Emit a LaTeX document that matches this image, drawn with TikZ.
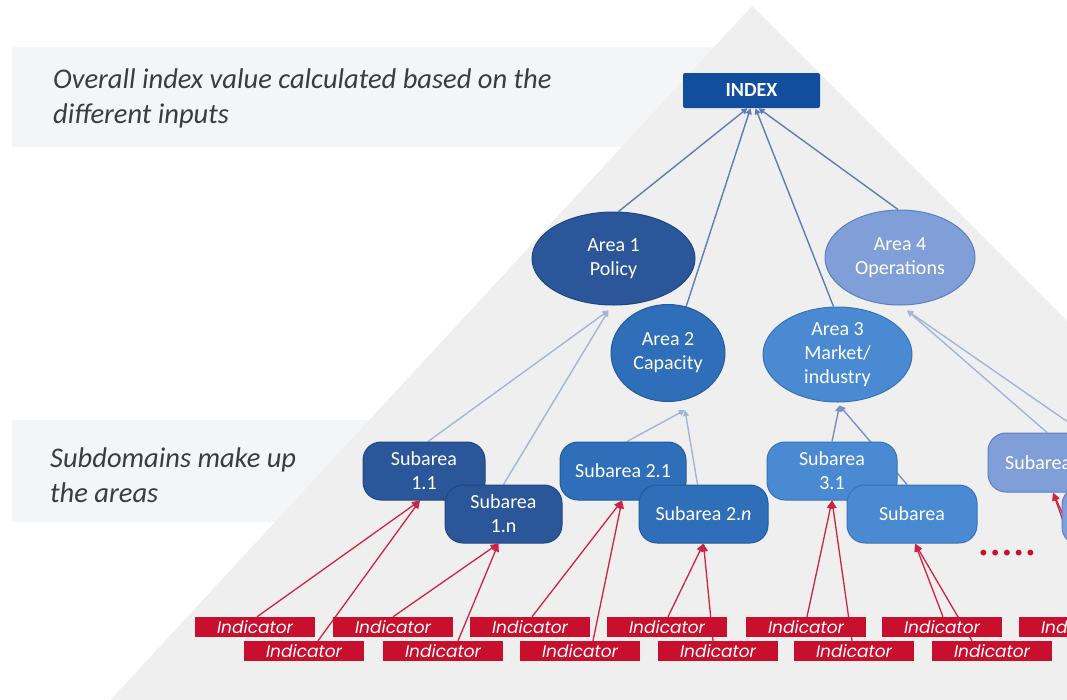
\documentclass[tikz,border=0pt]{standalone}
\usepackage{fontspec}
\setmainfont{Carlito}
\newfontfamily\indfont{Poppins}
\newfontfamily\dotfont{DejaVu Sans}
\usetikzlibrary{shapes.geometric,arrows.meta}
\pgfdeclarelayer{back}
\pgfdeclarelayer{links}
\pgfsetlayers{back,links,main}
\definecolor{bandgray}{HTML}{F4F5F7}
\definecolor{pyrgray}{HTML}{EFEFEF}
\definecolor{descgray}{HTML}{3C3C3C}
\definecolor{idxblue}{HTML}{114E9E}
\definecolor{cA}{HTML}{2B5699}
\definecolor{cAd}{HTML}{1F4680}
\definecolor{cB}{HTML}{2F6EB8}
\definecolor{cBd}{HTML}{245B9C}
\definecolor{cC}{HTML}{4A8AD2}
\definecolor{cCd}{HTML}{3872B5}
\definecolor{cD}{HTML}{809FD9}
\definecolor{cDd}{HTML}{5C7FC2}
\definecolor{indred}{HTML}{C8102E}
\definecolor{redline}{HTML}{CC2442}
\definecolor{topline}{HTML}{5E7DB0}
\definecolor{midline}{HTML}{A3B5D8}
\definecolor{midlinedark}{HTML}{7A90BE}
\begin{document}
\begin{tikzpicture}[x=1pt,y=-1pt,
  desc/.style={font=\fontsize{28.5}{35}\selectfont\itshape, text=descgray, align=left, inner sep=0pt},
  areanode/.style={ellipse, line width=1pt, text=white, font=\fontsize{20}{24}\selectfont, align=center, inner sep=0pt},
  subnode/.style={rounded corners=18pt, line width=1pt, text=white, font=\fontsize{20}{24}\selectfont, align=center, minimum height=58pt, inner sep=0pt},
  indnode/.style={fill=indred, text=white, font=\indfont\itshape\fontsize{17}{20}\selectfont, minimum width=120pt, minimum height=20pt, inner sep=0pt},
  idxline/.style={draw=topline, line width=1.4pt, -{Triangle[length=6pt,width=6pt]}},
  subline/.style={draw=midline, line width=1.4pt, -{Triangle[length=6pt,width=6pt]}},
  sublinedark/.style={draw=midlinedark, line width=1.4pt, -{Triangle[length=6pt,width=6pt]}},
  redlink/.style={draw=redline, line width=1.3pt, -{Triangle[length=8pt,width=7pt]}}
]
\useasboundingbox (0,0) rectangle (1067,699);
\clip (0,0) rectangle (1067,699);

\begin{pgfonlayer}{back}
\clip (0,0) rectangle (1067,699);
\fill[white] (0,0) rectangle (1067,699);
\fill[bandgray] (12,47) rectangle (780,147);
\fill[bandgray] (12,420) rectangle (780,522);
\fill[pyrgray] (752,6) -- (92,720) -- (1466,720) -- cycle;
\end{pgfonlayer}

% descriptions
\node[desc, anchor=west] (d1) at (53,98) {Overall index value calculated based on the\\different inputs};
\node[desc, anchor=west] (d2) at (50,475) {Subdomains make up\\the areas};

% index
\node[fill=idxblue, rounded corners=2pt, minimum width=137pt, minimum height=35pt, inner sep=0pt,
      text=white, font=\bfseries\fontsize{20}{24}\selectfont] (idx) at (751.5,90.5) {INDEX};

% areas
\node[areanode, fill=cA, draw=cAd, minimum width=163pt, minimum height=93pt] (a1) at (613.5,258.5) {Area 1\\Policy};
\node[areanode, fill=cD, draw=cDd, minimum width=150pt, minimum height=95pt] (a4) at (900,257.5) {Area 4\\Operations};
\node[areanode, fill=cB, draw=cBd, minimum width=114pt, minimum height=97pt] (a2) at (668,353) {Area 2\\Capacity};
\node[areanode, fill=cC, draw=cCd, minimum width=149pt, minimum height=95pt] (a3) at (837.5,354.5) {Area 3\\Market/\\industry};

% subareas
\node[subnode, fill=cA, draw=cAd, minimum width=122pt] (s11) at (424,471) {Subarea\\1.1};
\node[subnode, fill=cA, draw=cAd, minimum width=117pt] (s1n) at (503.5,514) {Subarea\\1.n};
\node[subnode, fill=cB, draw=cBd, minimum width=126pt] (s21) at (623,471) {Subarea 2.1};
\node[subnode, fill=cB, draw=cBd, minimum width=129pt] (s2n) at (703.5,514) {Subarea 2.\textit{n}};
\node[subnode, fill=cC, draw=cCd, minimum width=130pt] (s31) at (832,471) {Subarea\\3.1};
\node[subnode, fill=cC, draw=cCd, minimum width=130pt] (s3n) at (912,514) {Subarea};
\node[subnode, fill=cD, draw=cDd, minimum width=130pt, minimum height=59pt] (s41) at (1053,462.5) {Subarea\phantom{ 4.1}};
\node[subnode, fill=cD, draw=cDd, minimum width=130pt] (s4n) at (1127,516) {};

% dots
\node[text=indred, font=\dotfont\fontsize{20}{24}\selectfont, inner sep=0pt] (dots) at (1007,555) {•••••};

% indicators row 1
\node[indnode] (r11) at (255,627) {Indicator};
\node[indnode] (r12) at (393,627) {Indicator};
\node[indnode] (r13) at (530,627) {Indicator};
\node[indnode] (r14) at (667,627) {Indicator};
\node[indnode] (r15) at (806,627) {Indicator};
\node[indnode] (r16) at (942,627) {Indicator};
\node[indnode] (r17) at (1079,627) {Indicator};
% indicators row 2
\node[indnode] (r21) at (304,651) {Indicator};
\node[indnode] (r22) at (443,651) {Indicator};
\node[indnode] (r23) at (580,651) {Indicator};
\node[indnode] (r24) at (718,651) {Indicator};
\node[indnode] (r25) at (854,651) {Indicator};
\node[indnode] (r26) at (992,651) {Indicator};
\node[indnode] (r27) at (1130,651) {Indicator};

\begin{pgfonlayer}{links}
\clip (0,0) rectangle (1067,699);
% areas -> index
\draw[idxline] ([shift={(5,0)}]a1.north) -- ([xshift=-4pt]idx.south);
\draw[idxline] ([shift={(18,3)}]a2.north) -- ([xshift=-1pt]idx.south);
\draw[idxline] ([shift={(-4,0)}]a3.north) -- ([xshift=4pt]idx.south);
\draw[idxline] ([shift={(-2,0)}]a4.north) -- ([xshift=7pt]idx.south);
% subareas -> areas
\draw[subline] ([xshift=4pt]s11.north) -- ([shift={(-5,5)}]a1.south);
\draw[subline] (s1n.north) -- ([shift={(-5,5)}]a1.south);
\draw[subline] ([xshift=4pt]s21.north) -- ([shift={(17,8)}]a2.south);
\draw[subline] ([xshift=-6pt]s2n.north) -- ([shift={(17,8)}]a2.south);
\draw[sublinedark] (s31.north) -- ([shift={(2,3)}]a3.south);
\draw[sublinedark] ([xshift=-5pt]s3n.north) -- ([shift={(2,3)}]a3.south);
\draw[subline] ([xshift=-6pt]s41.north) -- ([shift={(7,5)}]a4.south);
\draw[subline] ([xshift=34pt]s4n.north) -- ([shift={(7,5)}]a4.south);
% indicators -> subareas
\draw[redlink] ([xshift=2pt]r11.north) -- ([xshift=-4pt]s11.south);
\draw[redlink] ([xshift=14pt]r21.north) -- ([xshift=-4pt]s11.south);
\draw[redlink] (r12.north) -- ([xshift=-5pt]s1n.south);
\draw[redlink] ([xshift=15pt]r22.north) -- ([xshift=-5pt]s1n.south);
\draw[redlink] ([xshift=2pt]r13.north) -- ([xshift=-1pt]s21.south);
\draw[redlink] ([xshift=13pt]r23.north) -- ([xshift=-1pt]s21.south);
\draw[redlink] ([xshift=1pt]r14.north) -- (s2n.south);
\draw[redlink] ([xshift=-5pt]r24.north) -- (s2n.south);
\draw[redlink] ([xshift=1pt]r15.north) -- (s31.south);
\draw[redlink] ([xshift=-2pt]r25.north) -- (s31.south);
\draw[redlink] ([xshift=1pt]r16.north) -- ([xshift=3pt]s3n.south);
\draw[redlink] ([xshift=-20pt]r26.north) -- ([xshift=3pt]s3n.south);
\draw[redlink] ([xshift=18pt]r17.north) -- (s41.south);
\draw[redlink] ([xshift=-10pt]r27.north) -- (s41.south);
\end{pgfonlayer}
\end{tikzpicture}
\end{document}
